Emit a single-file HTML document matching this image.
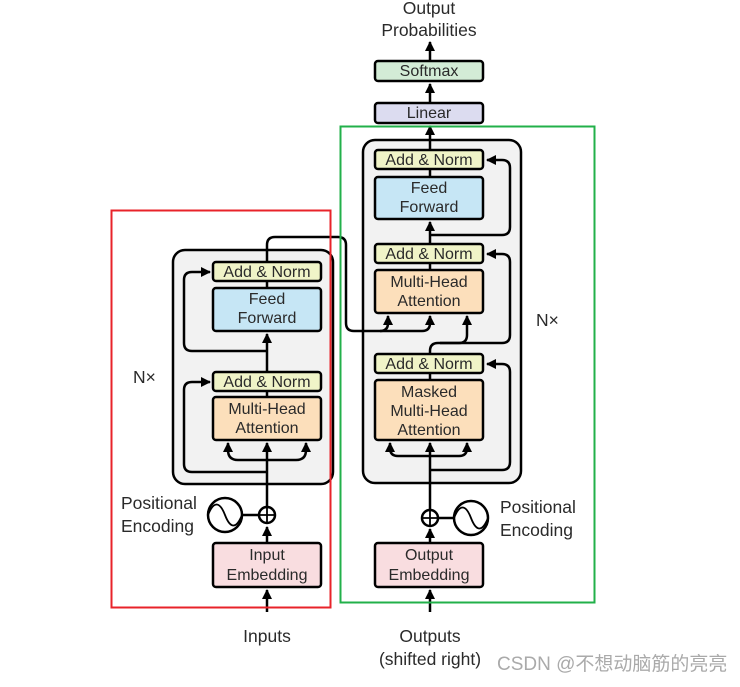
<!DOCTYPE html>
<html><head><meta charset="utf-8"><style>
body{margin:0;background:#fff;width:740px;height:682px;overflow:hidden}
text{font-family:"Liberation Sans","Noto Sans CJK SC",sans-serif;fill:#2a2a2a}
.b{font-size:16px}
.o{font-size:17.5px}
</style></head><body>
<svg width="740" height="682" viewBox="0 0 740 682" xmlns="http://www.w3.org/2000/svg">
<defs><marker id="a" viewBox="0 0 10 10" refX="9" refY="5" markerWidth="4" markerHeight="4" orient="auto"><path d="M0,0 L10,5 L0,10 z" fill="#000"/></marker></defs>
<rect x="173" y="250" width="160" height="234" rx="12" fill="#f2f2f2" stroke="#000" stroke-width="2.5"/>
<rect x="363" y="140" width="158" height="343" rx="12" fill="#f2f2f2" stroke="#000" stroke-width="2.5"/>
<g fill="none" stroke="#000" stroke-width="2.5">
<path d="M267,612 V590" marker-end="url(#a)"/>
<path d="M267,543 V527" marker-end="url(#a)"/>
<path d="M267,507 V443" marker-end="url(#a)"/>
<path d="M267,460 H238 Q228,460 228,450 V443" marker-end="url(#a)"/>
<path d="M267,460 H296 Q306,460 306,450 V443" marker-end="url(#a)"/>
<path d="M267,472 H192 Q184,472 184,464 V390 Q184,382 192,382 H210" marker-end="url(#a)"/>
<path d="M267,397 V391"/>
<path d="M267,372 V334" marker-end="url(#a)"/>
<path d="M267,351 H192 Q184,351 184,343 V280 Q184,272 192,272 H210" marker-end="url(#a)"/>
<path d="M267,288 V281"/>
<path d="M267,262 V245 Q267,237 275,237 H338 Q346,237 346,245 V323 Q346,331 354,331 H422 Q430,331 430,323 V316" marker-end="url(#a)"/>
<path d="M380,331 Q388,331 388,323 V316" marker-end="url(#a)"/>
<path d="M430,612 V590" marker-end="url(#a)"/>
<path d="M430,543 V529" marker-end="url(#a)"/>
<path d="M430,510 V443" marker-end="url(#a)"/>
<path d="M430,456 H398 Q390,456 390,448 V443" marker-end="url(#a)"/>
<path d="M430,456 H459 Q467,456 467,448 V443" marker-end="url(#a)"/>
<path d="M430,470 H502 Q510,470 510,462 V372 Q510,364 502,364 H487" marker-end="url(#a)"/>
<path d="M430,380 V373"/>
<path d="M430,354 V351 Q430,343 438,343 H459 Q467,343 467,335 V316" marker-end="url(#a)"/>
<path d="M440,343 H502 Q510,343 510,335 V262 Q510,254 502,254 H487" marker-end="url(#a)"/>
<path d="M430,270 V263"/>
<path d="M430,244 V222" marker-end="url(#a)"/>
<path d="M430,235 H502 Q510,235 510,227 V168 Q510,160 502,160 H487" marker-end="url(#a)"/>
<path d="M430,177 V169"/>
<path d="M430,150 V126" marker-end="url(#a)"/>
<path d="M430,103 V84" marker-end="url(#a)"/>
<path d="M430,61 V42" marker-end="url(#a)"/>
<circle cx="225" cy="515" r="17" fill="#fff"/>
<path d="M208,515 C214,500 220,502 225,515 S236,530 242,515" stroke-width="1.8"/>
<path d="M242,515 H259"/>
<circle cx="267" cy="515" r="8" fill="#fff"/>
<path d="M259,515 H275 M267,507 V523" stroke-width="1.8"/>
<circle cx="471" cy="518" r="17" fill="#fff"/>
<path d="M454,518 C460,503 466,505 471,518 S482,533 488,518" stroke-width="1.8"/>
<path d="M438,518 H454"/>
<circle cx="430" cy="518" r="8" fill="#fff"/>
<path d="M422,518 H438 M430,510 V526" stroke-width="1.8"/>
</g>
<g stroke="#000" stroke-width="2.5">
<rect x="213" y="262" width="108" height="19" rx="3" fill="#f0f4c8"/>
<rect x="213" y="288" width="108" height="43" rx="3" fill="#c6e6f5"/>
<rect x="213" y="372" width="108" height="19" rx="3" fill="#f0f4c8"/>
<rect x="213" y="397" width="108" height="43" rx="3" fill="#fcdfbb"/>
<rect x="213" y="543" width="108" height="44" rx="3" fill="#f9dde0"/>
<rect x="375" y="150" width="108" height="19" rx="3" fill="#f0f4c8"/>
<rect x="375" y="177" width="108" height="42" rx="3" fill="#c6e6f5"/>
<rect x="375" y="244" width="108" height="19" rx="3" fill="#f0f4c8"/>
<rect x="375" y="270" width="108" height="43" rx="3" fill="#fcdfbb"/>
<rect x="375" y="354" width="108" height="19" rx="3" fill="#f0f4c8"/>
<rect x="375" y="380" width="108" height="60" rx="3" fill="#fcdfbb"/>
<rect x="375" y="543" width="108" height="44" rx="3" fill="#f9dde0"/>
<rect x="375" y="103" width="108" height="20" rx="3" fill="#dcdcf0"/>
<rect x="375" y="61" width="108" height="20" rx="3" fill="#d3ecd6"/>
</g>
<rect x="111.5" y="210.5" width="219" height="397" fill="none" stroke="#e8232a" stroke-width="2"/>
<rect x="340.5" y="126.5" width="254" height="476" fill="none" stroke="#22b04a" stroke-width="2"/>
<g text-anchor="middle">
<text class="b" x="267" y="277">Add &amp; Norm</text>
<text class="b" x="267" y="304">Feed</text><text class="b" x="267" y="323">Forward</text>
<text class="b" x="267" y="387">Add &amp; Norm</text>
<text class="b" x="267" y="414">Multi-Head</text><text class="b" x="267" y="433">Attention</text>
<text class="b" x="267" y="560">Input</text><text class="b" x="267" y="580">Embedding</text>
<text class="b" x="429" y="165">Add &amp; Norm</text>
<text class="b" x="429" y="193">Feed</text><text class="b" x="429" y="212">Forward</text>
<text class="b" x="429" y="259">Add &amp; Norm</text>
<text class="b" x="429" y="287">Multi-Head</text><text class="b" x="429" y="306">Attention</text>
<text class="b" x="429" y="369">Add &amp; Norm</text>
<text class="b" x="429" y="397">Masked</text><text class="b" x="429" y="416">Multi-Head</text><text class="b" x="429" y="435">Attention</text>
<text class="b" x="429" y="560">Output</text><text class="b" x="429" y="580">Embedding</text>
<text class="b" x="429" y="118">Linear</text>
<text class="b" x="429" y="76">Softmax</text>
<text class="o" x="429" y="14">Output</text>
<text class="o" x="429" y="36">Probabilities</text>
<text class="o" x="267" y="642">Inputs</text>
<text class="o" x="430" y="642">Outputs</text>
<text class="o" x="430" y="665">(shifted right)</text>
</g>
<text class="o" x="121" y="509">Positional</text>
<text class="o" x="121" y="532">Encoding</text>
<text class="o" x="500" y="513">Positional</text>
<text class="o" x="500" y="536">Encoding</text>
<text class="o" x="133" y="383">N×</text>
<text class="o" x="536" y="326">N×</text>
<text x="497" y="670" style="fill:#aaa;font-size:19px">CSDN @不想动脑筋的亮亮</text>
</svg>
</body></html>
